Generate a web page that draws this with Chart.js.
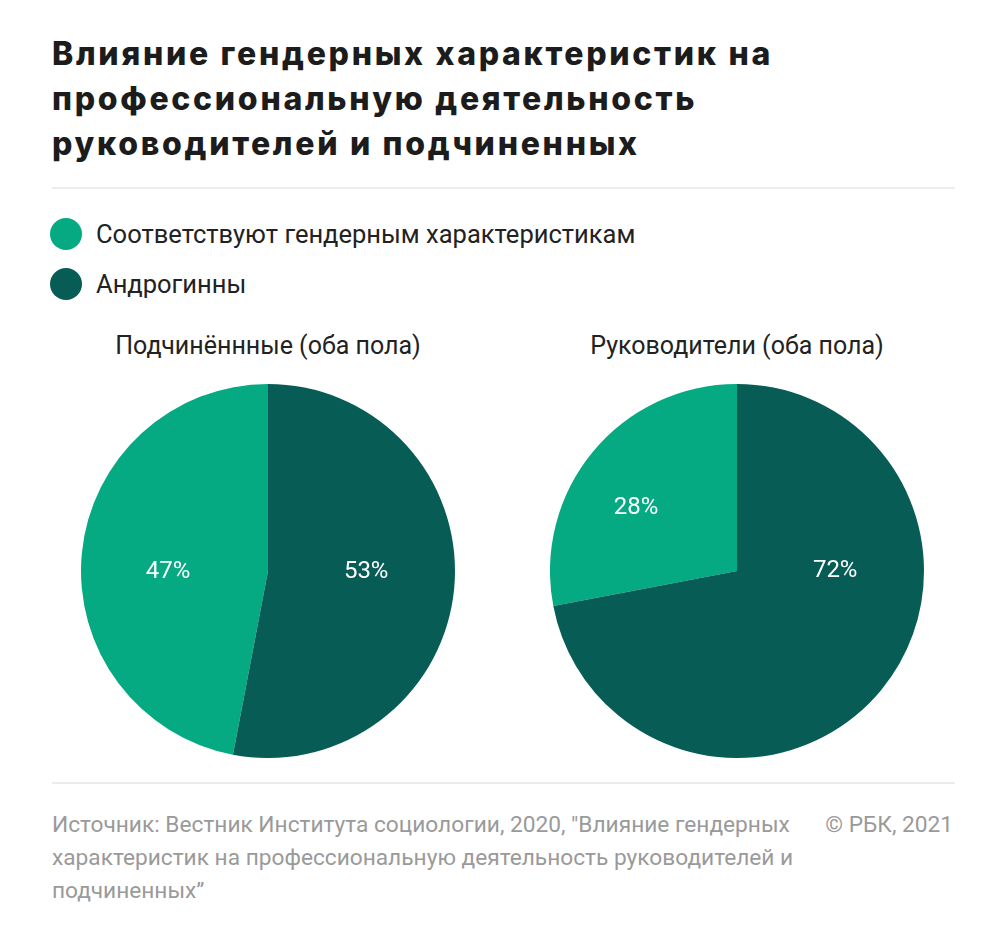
<!DOCTYPE html>
<html lang="ru">

<head>
  <meta charset="UTF-8">
  <title>Влияние гендерных характеристик</title>
  <script src="https://cdn.jsdelivr.net/npm/chart.js"></script>
  <style>
    body {
      margin: 0;
      background: #fff;
      font-family: Roboto, "Noto Sans", sans-serif;
      color: #222;
      width: 1005px;
      height: 935px;
      position: relative;
      overflow: hidden;
    }

    h1 {
      position: absolute;
      left: 52px;
      top: 31px;
      margin: 0;
      font-family: Inter, Roboto, sans-serif;
      font-size: 32px;
      line-height: 45px;
      font-weight: 800;
      letter-spacing: 2.7px;
      color: #1c1c1c;
      width: 940px;
      white-space: nowrap;
    }

    .rule {
      position: absolute;
      left: 52px;
      width: 903px;
      height: 2px;
      background: #ececec;
    }

    .legend {
      position: absolute;
      left: 50px;
      top: 216px;
    }

    .legend div {
      display: flex;
      align-items: center;
      height: 36px;
      margin-bottom: 14px;
      font-size: 25.5px;
    }

    .legend span.dot {
      width: 32px;
      height: 32px;
      border-radius: 50%;
      margin-right: 14px;
    }

    .sub {
      position: absolute;
      top: 331px;
      width: 400px;
      text-align: center;
      font-size: 25px;
      color: #222;
    }

    .pie {
      position: absolute;
      top: 384px;
      width: 374px;
      height: 374px;
    }

    .source {
      position: absolute;
      left: 52px;
      top: 808px;
      width: 780px;
      font-size: 22.7px;
      line-height: 33px;
      color: #9a9a9a;
    }

    .copy {
      position: absolute;
      right: 52px;
      top: 808px;
      font-size: 22.7px;
      line-height: 33px;
      color: #9a9a9a;
    }
  </style>
</head>

<body>
  <h1>Влияние гендерных характеристик на<br>профессиональную деятельность<br>руководителей и подчиненных</h1>
  <div class="rule" style="top:187px"></div>
  <div class="legend" id="legend"></div>

  <div class="sub" style="left:68px">Подчинённные (оба пола)</div>
  <div class="sub" style="left:537px">Руководители (оба пола)</div>

  <div class="pie" style="left:81px"><canvas id="pieLeft" width="374" height="374"></canvas></div>
  <div class="pie" style="left:550px"><canvas id="pieRight" width="374" height="374"></canvas></div>

  <div class="rule" style="top:782px"></div>
  <div class="source">Источник: Вестник Института социологии, 2020, "Влияние гендерных<br>характеристик на профессиональную деятельность руководителей и<br>подчиненных”</div>
  <div class="copy">© РБК, 2021</div>

  <script>
    const categories = ["Соответствуют гендерным характеристикам", "Андрогинны"];
    const colors = ["#05aa82", "#075d55"];
    const subordinates = [47, 53];
    const managers = [28, 72];

    // легенда
    const legend = document.getElementById("legend");
    categories.forEach((c, i) => {
      const row = document.createElement("div");
      row.innerHTML = `<span class="dot" style="background:${colors[i]}"></span>${c}`;
      legend.appendChild(row);
    });

    // подписи процентов, смещение в долях радиуса от центра
    const pctLabels = {
      id: "pctLabels",
      afterDatasetsDraw(chart, args, opts) {
        const ctx = chart.ctx;
        const arcs = chart.getDatasetMeta(0).data;
        const vals = chart.data.datasets[0].data;
        ctx.save();
        ctx.fillStyle = "#fff";
        ctx.font = "24px Roboto";
        ctx.textAlign = "center";
        ctx.textBaseline = "middle";
        arcs.forEach((arc, i) => {
          const r = arc.outerRadius;
          const p = opts.pos[i];
          ctx.fillText(vals[i] + "%", arc.x + p[0] * r, arc.y + p[1] * r);
        });
        ctx.restore();
      }
    };

    function makePie(id, values, pos) {
      new Chart(document.getElementById(id), {
        type: "pie",
        data: {
          labels: categories,
          datasets: [{
            data: values,
            backgroundColor: colors,
            borderWidth: 0
          }]
        },
        options: {
          responsive: false,
          animation: false,
          // первый сектор заканчивается на 12 часах
          rotation: -values[0] / 100 * 360,
          layout: { padding: 0 },
          plugins: {
            legend: { display: false },
            tooltip: { enabled: false },
            pctLabels: { pos: pos }
          }
        },
        plugins: [pctLabels]
      });
    }

    makePie("pieLeft", subordinates, [[-0.535, 0.005], [0.525, 0.005]]);
    makePie("pieRight", managers, [[-0.54, -0.335], [0.525, 0]]);
  </script>
</body>

</html>
